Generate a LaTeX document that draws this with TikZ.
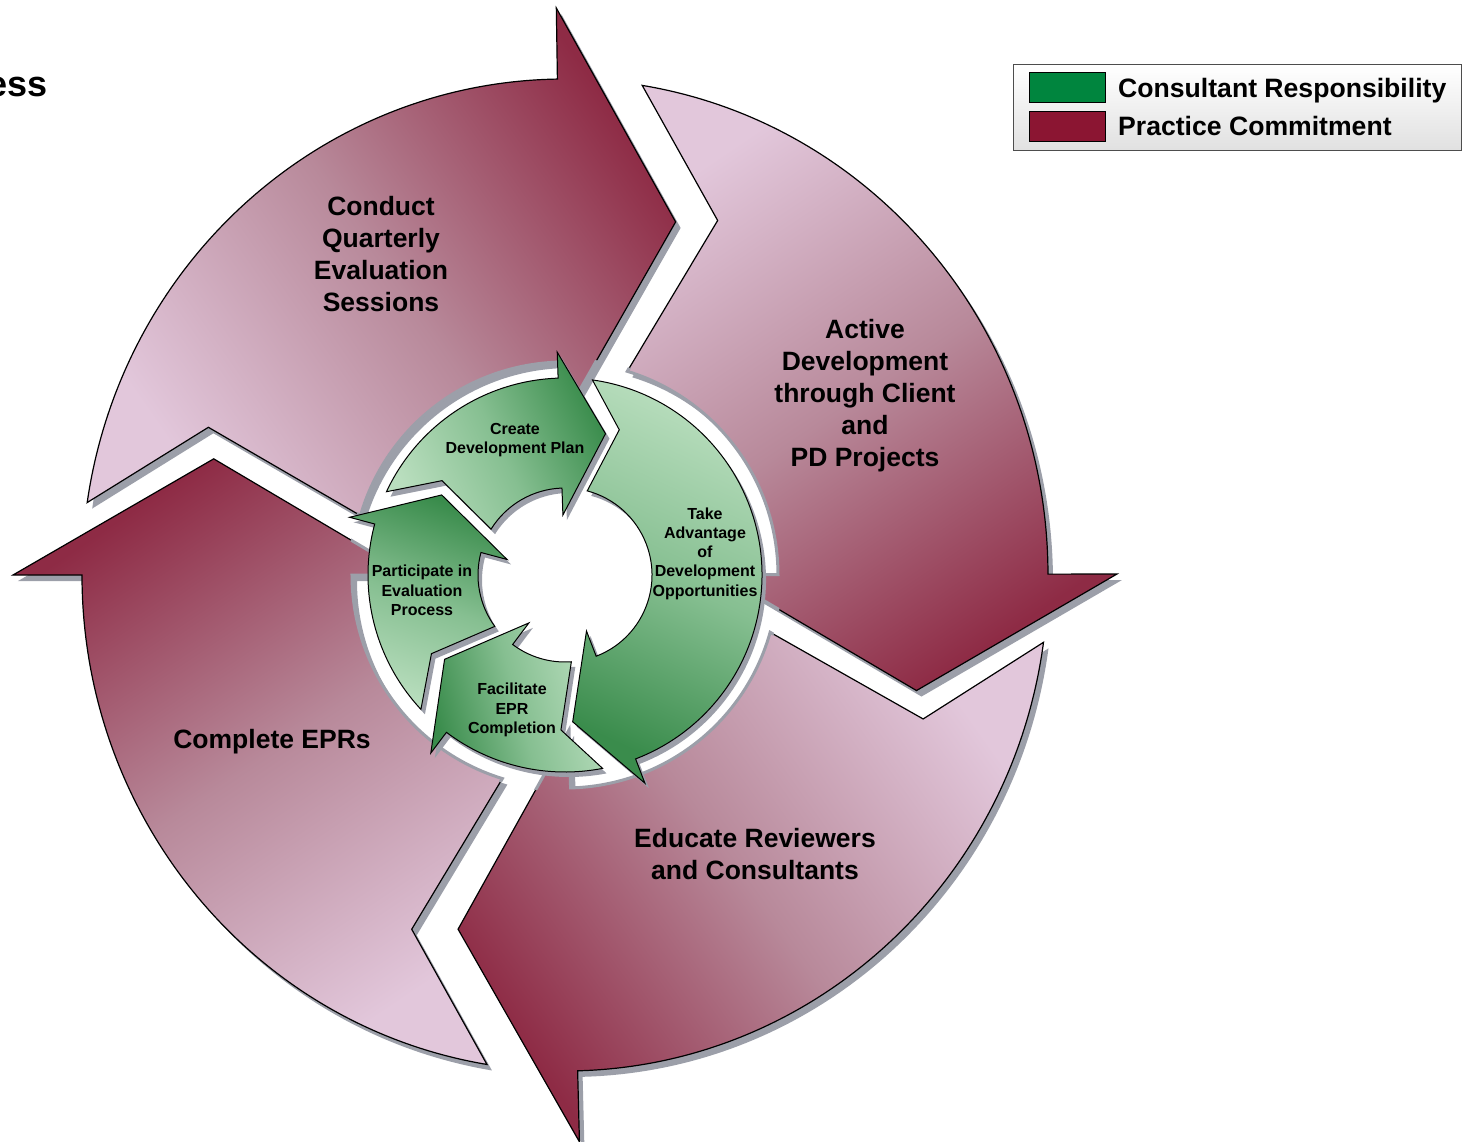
\documentclass[tikz,border=0pt]{standalone}
\usepackage{fontspec}
\setmainfont{Liberation Sans}
\usepackage{tikz}
\definecolor{plumDark}{HTML}{8E2B45}
\definecolor{plumMid}{HTML}{B8899A}
\definecolor{plumLight}{HTML}{E2C7DB}
\definecolor{leafDark}{HTML}{3A8C4C}
\definecolor{leafMid}{HTML}{86BF91}
\definecolor{leafLight}{HTML}{B9DEBE}
\definecolor{dropGray}{HTML}{9C9FA9}
\definecolor{keyGreen}{HTML}{00853E}
\definecolor{keyMaroon}{HTML}{8B1532}
\definecolor{keyLine}{HTML}{4D4D4D}

\tikzset{
  % big cycle arrow, head base at angle #1
  outer arrow/.style={insert path={
    ({#1+80.7}:483 and 496) arc[start angle={#1+80.7}, end angle={#1}, x radius=483, y radius=496]
    -- (#1:552 and 567) -- ({#1-18.3}:370) -- (#1:155) -- (#1:213)
    arc[start angle={#1}, end angle={#1+72.9}, radius=213]
    -- ({#1+66.6}:386) -- cycle}},
  % ring arrow, head base at #1, tail tucked behind the head at #2
  ring arrow/.style 2 args={insert path={
    ({#2-10}:197) arc[start angle={#2-10}, end angle={#1}, radius=197]
    -- (#1:223) -- ({#1-18}:147) -- (#1:60) -- (#1:87)
    arc[start angle={#1}, end angle={#2-16.8}, radius=87]
    -- ({#2-22.5}:155) -- cycle}},
  practice/.style={draw=black, line width=1.2, top color=plumDark, bottom color=plumLight, middle color=plumMid, shading angle=#1},
  consultant/.style={draw=black, line width=1, top color=leafDark, bottom color=leafLight, middle color=leafMid, shading angle=#1},
  biglabel/.style={align=center, font=\fontsize{26.5}{32}\selectfont\bfseries},
  smalllabel/.style={align=center, font=\fontsize{16}{19.3}\selectfont\bfseries},
  keylabel/.style={anchor=base west, inner sep=0pt, font=\fontsize{26.6}{30}\selectfont\bfseries},
  swatch/.style={draw=black, line width=1, minimum width=76pt, minimum height=29.5pt, inner sep=0pt},
}

\begin{document}
\begin{tikzpicture}[x=1pt,y=1pt]
  \useasboundingbox (-565,-566) rectangle (901,575);

  % outer cycle: shadows first, then the arrows, then a soft rim by the ring
  \foreach \h in {90.9,0.1,271.5,180}
    \fill[dropGray, shift={(5,-6)}, outer arrow=\h];
  \path[practice=-55.1, outer arrow=90.9];
  \path[practice=-145.9, outer arrow=0.1];
  \path[practice=125.5, outer arrow=271.5];
  \path[practice=34, outer arrow=180];
  \begin{scope}
    \clip (0,0) circle (217);
    \foreach \h in {90.9,0.1,271.5,180}
      \draw[dropGray, line width=3, outer arrow=\h];
  \end{scope}

  % inner ring
  \foreach \h/\t in {92/165,-69/92,233/291,165/233}
    \fill[dropGray, shift={(4,-5)}, ring arrow={\h}{\t}];
  \path[consultant=-65, ring arrow={92}{165}];
  \path[consultant=155, ring arrow={-69}{92}];
  \path[consultant=105, ring arrow={233}{291}];
  \path[consultant=-20, ring arrow={165}{233}];

  \node[biglabel] (conduct) at (-184,321) {Conduct\\Quarterly\\Evaluation\\Sessions};
  \node[biglabel] (active) at (300,179) {Active\\Development\\through Client\\and\\PD Projects};
  \node[biglabel] (complete) at (-293,-167) {Complete EPRs};
  \node[biglabel] (educate) at (190,-279) {Educate Reviewers\\and Consultants};

  \node[smalllabel] (create) at (-50,135) {Create\\Development Plan};
  \node[smalllabel] (take) at (140,21.5) {Take\\Advantage\\of\\Development\\Opportunities};
  \node[smalllabel] (participate) at (-143,-15.5) {Participate in\\Evaluation\\Process};
  \node[smalllabel] (facilitate) at (-53,-135) {Facilitate\\EPR\\Completion};

  % key
  \node[draw=keyLine, line width=1, top color=white, bottom color=black!12, minimum width=448pt, minimum height=86pt] (key) at (672,467) {};
  \node[swatch, fill=keyGreen] (keyG) at (502,487.5) {};
  \node[swatch, fill=keyMaroon] (keyM) at (502,448.5) {};
  \node[keylabel] (keyGtext) at (553,477.5) {Consultant Responsibility};
  \node[keylabel] (keyMtext) at (553,439.5) {Practice Commitment};

  \node[anchor=base east, inner sep=0pt, font=\fontsize{36}{40}\selectfont\bfseries] (title) at (-517,478) {ess};
\end{tikzpicture}
\end{document}
